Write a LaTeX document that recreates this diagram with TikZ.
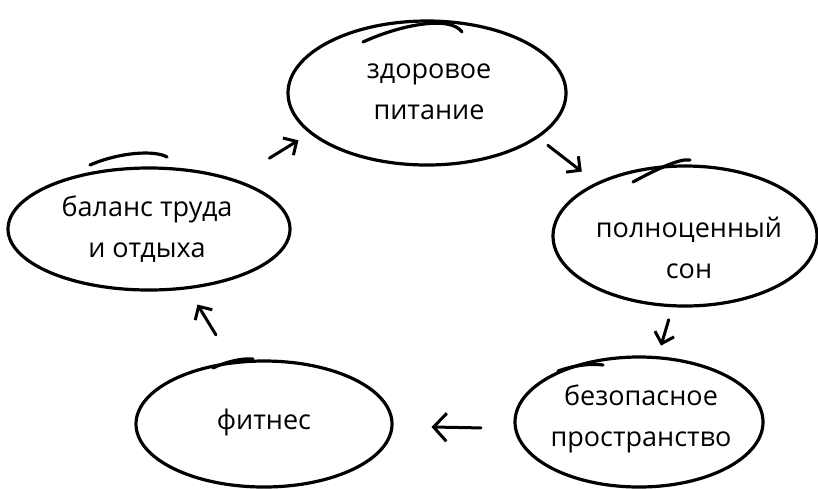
\documentclass[tikz,border=0pt]{standalone}
\usepackage{fontspec}
\setmainfont{Open Sans}
\usetikzlibrary{shapes.geometric,arrows.meta}

\begin{document}
\begin{tikzpicture}[x=1pt,y=-1pt]
	\tikzstyle{bubble}=[draw,ellipse,line width=3.2pt,inner sep=0pt]
	\tikzstyle{word}=[align=center,inner sep=0pt,font=\fontsize{27}{41}\selectfont]
	\tikzstyle{hop}=[-{Straight Barb[length=10pt,width=20pt]},line width=3pt,line cap=round]
	\tikzstyle{tail}=[line width=3.2pt,line cap=round]
	\useasboundingbox (0,0) rectangle (818,488);
	\node[bubble,minimum width=278pt,minimum height=144pt] (food) at (427,93) {};
	\node[bubble,minimum width=264pt,minimum height=140pt] (sleep) at (685,236) {};
	\node[bubble,minimum width=248pt,minimum height=130pt] (safety) at (639,422) {};
	\node[bubble,minimum width=256pt,minimum height=126pt] (fitness) at (264,424) {};
	\node[bubble,minimum width=282pt,minimum height=122pt] (balance) at (149,229) {};
	\node[word] (food text) at (429,92) {здоровое\\питание};
	\node[word] (sleep text) at (689,248) {полноценный\\сон};
	\node[word] (safety text) at (641,419) {безопасное\\пространство};
	\node[word] (fitness text) at (264,422) {фитнес};
	\node[word] (balance text) at (147,229) {баланс труда\\и отдыха};
	\draw[hop,shorten <=40pt,shorten >=13pt] (balance.30) -- (food.199);
	\draw[hop,shorten <=12pt,shorten >=18pt] (food.-22) -- (sleep.149);
	\draw[hop,shorten <=13pt,shorten >=11pt] (sleep.-100) -- (safety.74);
	\draw[hop,shorten <=33pt,shorten >=38pt,-{Straight Barb[length=13pt,width=28pt]}] (safety.183) -- (fitness.-1);
	\draw[hop,shorten <=31pt,shorten >=18pt] (fitness.117) -- (balance.-57);
	\draw[tail] (363,42) .. controls (400,25) and (450,15) .. (462,32);
	\draw[tail] (633,182) .. controls (655,170) and (680,158) .. (690,160);
	\draw[tail] (558,371) .. controls (572,366) and (590,363) .. (603,365);
	\draw[tail] (213,368) .. controls (225,362) and (242,358) .. (253,359);
	\draw[tail] (90,165) .. controls (120,152) and (155,150) .. (167,157);
\end{tikzpicture}
\end{document}
